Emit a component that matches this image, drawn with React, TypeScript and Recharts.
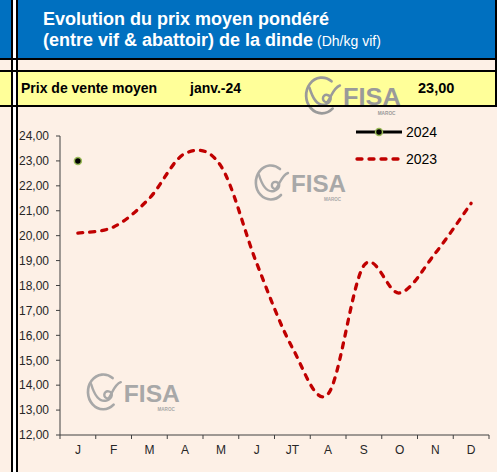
import { LineChart, Line, XAxis, YAxis, Legend } from 'recharts';

const months = ['J', 'F', 'M', 'A', 'M', 'J', 'JT', 'A', 'S', 'O', 'N', 'D'];
const prices2023 = [20.1, 20.35, 21.5, 23.3, 22.8, 18.9, 15.5, 13.65, 18.8, 17.7, 19.3, 21.3];
const prices2024 = [23.0, null, null, null, null, null, null, null, null, null, null, null];
const yTicks = [12, 13, 14, 15, 16, 17, 18, 19, 20, 21, 22, 23, 24];

const data = months.map((month, i) => ({
  month,
  y2024: prices2024[i],
  y2023: prices2023[i],
}));

const FONT = '"Liberation Sans", Arial, sans-serif';
const BG = '#FDF0E6';
const AXIS = '#404040';
const W = 497;
const H = 472;
const CHART_TOP = 107;
const PLOT_LEFT = 60;
const PLOT_RIGHT = 8;
const BAND = (W - PLOT_LEFT - PLOT_RIGHT) / months.length;

const fmt = (v: number) => v.toFixed(2).replace('.', ',');

// Excel-style smoothed line (Catmull-Rom as bezier)
const excelCurve = (context: any) => {
  let pts: [number, number][] = [];
  return {
    areaStart() {},
    areaEnd() {},
    lineStart() {
      pts = [];
    },
    lineEnd() {
      if (!pts.length) return;
      context.moveTo(pts[0][0], pts[0][1]);
      for (let i = 0; i < pts.length - 1; i++) {
        const p0 = pts[Math.max(i - 1, 0)];
        const p1 = pts[i];
        const p2 = pts[i + 1];
        const p3 = pts[Math.min(i + 2, pts.length - 1)];
        context.bezierCurveTo(
          p1[0] + (p2[0] - p0[0]) / 6,
          p1[1] + (p2[1] - p0[1]) / 6,
          p2[0] - (p3[0] - p1[0]) / 6,
          p2[1] - (p3[1] - p1[1]) / 6,
          p2[0],
          p2[1]
        );
      }
    },
    point(x: number, y: number) {
      pts.push([x, y]);
    },
  };
};

const MonthTick = (props: any) => {
  const { x, y, payload, index } = props;
  const axisY = y - 10;
  const last = index === months.length - 1;
  return (
    <g>
      <line x1={x - BAND / 2} x2={x - BAND / 2} y1={axisY} y2={axisY + 4} stroke={AXIS} />
      {last && <line x1={x + BAND / 2} x2={x + BAND / 2} y1={axisY} y2={axisY + 4} stroke={AXIS} />}
      <text x={x} y={y} dy="0.71em" textAnchor="middle" fontSize={12} fill="#262626" fontFamily={FONT}>
        {payload.value}
      </text>
    </g>
  );
};

const LegendBox = () => (
  <svg width={110} height={54} style={{ display: 'block' }}>
    <line x1={1} x2={47} y1={12} y2={12} stroke="#000" strokeWidth={3} />
    <circle cx={24} cy={12} r={3.5} fill="#000" stroke="#9BBB59" strokeWidth={1.5} />
    <text x={51} y={17} fontSize={14} fontFamily={FONT} fill="#000">2024</text>
    <line x1={2} x2={47} y1={39} y2={39} stroke="#C00000" strokeWidth={3.3} strokeDasharray="5 7" strokeLinecap="round" />
    <text x={51} y={44} fontSize={14} fontFamily={FONT} fill="#000">2023</text>
  </svg>
);

const Logo = ({ x, y, s, color }: { x: number; y: number; s: number; color: string }) => (
  <g transform={`translate(${x},${y}) scale(${s})`} fill="none" stroke={color}>
    <path d="M 30 6 A 15 17 0 1 0 31 32" strokeWidth={2.6} strokeLinecap="round" />
    <path d="M 9 12 C 12 22, 16 30, 24 28 C 30 26, 31 20, 26 19 C 21 18, 20 26, 26 26" strokeWidth={2.4} strokeLinecap="round" />
    <path d="M 26 26 C 30 20, 32 12, 38 10" strokeWidth={2.4} strokeLinecap="round" />
    <text x={41} y={29} fontSize={23} fontWeight="bold" fontFamily={FONT} fill={color} stroke="none" textLength={55} lengthAdjust="spacingAndGlyphs">
      FISA
    </text>
    <text x={74} y={38} fontSize={4.5} fontWeight="bold" fontFamily={FONT} fill={color} stroke="none">
      MAROC
    </text>
  </g>
);

const Frame = () => (
  <svg width={W} height={H} style={{ position: 'absolute', left: 0, top: 0 }}>
    <rect x={0} y={0} width={W} height={H} fill={BG} />
    <rect x={0} y={0} width={495} height={58} fill="#0070C0" />
    <rect x={0} y={72} width={W} height={33} fill="#FFFF99" />
    <rect x={13} y={0} width={3} height={H} fill="#FFFFFF" />
    <text x={43} y={25} fontSize={18} fontWeight="bold" fill="#FFFFFF" fontFamily={FONT}>
      Evolution du prix moyen pondéré
    </text>
    <text x={43} y={46} fontSize={18} fontWeight="bold" fill="#FFFFFF" fontFamily={FONT}>
      (entre vif &amp; abattoir) de la dinde
      <tspan fontSize={14} fontWeight="normal" dx={4}>(Dh/kg vif)</tspan>
    </text>
    <Logo x={300} y={75} s={1.05} color="#9A9A9A" />
    <text x={21} y={93} fontSize={14} fontWeight="bold" fill="#000" fontFamily={FONT}>Prix de vente moyen</text>
    <text x={190} y={93} fontSize={14} fontWeight="bold" fill="#000" fontFamily={FONT}>janv.-24</text>
    <text x={418} y={93} fontSize={14.5} fontWeight="bold" fill="#000" fontFamily={FONT}>23,00</text>
    <Logo x={250} y={163} s={1} color="#A8A8A8" />
    <Logo x={82} y={372} s={1.02} color="#A8A8A8" />
    <rect x={0} y={58} width={W} height={2} fill="#000" />
    <rect x={0} y={70} width={W} height={2} fill="#000" />
    <rect x={0} y={105} width={W} height={2} fill="#000" />
    <rect x={11} y={0} width={2} height={H} fill="#000" />
    <rect x={16} y={0} width={2} height={H} fill="#000" />
    <rect x={495} y={0} width={2} height={107} fill="#000" />
  </svg>
);

const App = () => (
  <div style={{ position: 'absolute', left: 0, top: 0, width: W, height: H, overflow: 'hidden', fontFamily: FONT }}>
    <Frame />
    <div style={{ position: 'absolute', left: 0, top: CHART_TOP }}>
      <LineChart width={W} height={H - CHART_TOP} data={data} margin={{ top: 29, right: PLOT_RIGHT, left: 0, bottom: 7 }}>
        <XAxis
          dataKey="month"
          interval={0}
          height={30}
          tickLine={false}
          tickSize={4}
          tickMargin={6}
          padding={{ left: BAND / 2, right: BAND / 2 }}
          axisLine={{ stroke: AXIS }}
          tick={<MonthTick />}
        />
        <YAxis
          width={PLOT_LEFT}
          domain={[12, 24]}
          ticks={yTicks}
          tickFormatter={fmt}
          tickSize={4}
          tickMargin={7}
          axisLine={{ stroke: AXIS }}
          tickLine={{ stroke: AXIS }}
          tick={{ fontSize: 12, fill: '#262626', fontFamily: FONT }}
          interval={0}
        />
        <Legend
          layout="horizontal"
          verticalAlign="middle"
          align="center"
          wrapperStyle={{ left: 355, top: 13, width: 110 }}
          content={() => <LegendBox />}
        />
        <Line
          dataKey="y2023"
          type={excelCurve as any}
          stroke="#C00000"
          strokeWidth={3.3}
          strokeDasharray="5 7"
          strokeLinecap="round"
          dot={false}
          activeDot={false}
          isAnimationActive={false}
        />
        <Line
          dataKey="y2024"
          stroke="#000"
          strokeWidth={3}
          dot={{ r: 3.5, fill: '#000', stroke: '#9BBB59', strokeWidth: 1.5 }}
          activeDot={false}
          isAnimationActive={false}
        />
      </LineChart>
    </div>
  </div>
);

export default App;
